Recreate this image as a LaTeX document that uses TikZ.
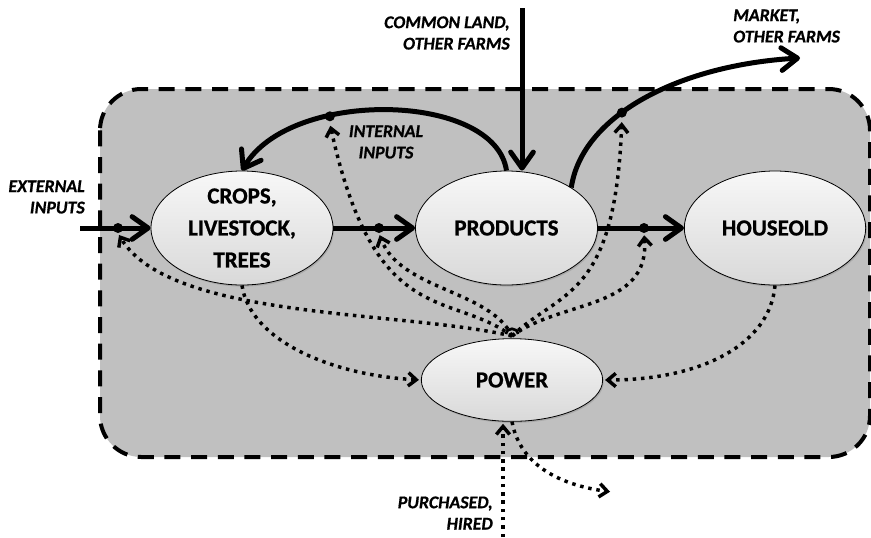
\documentclass[tikz,border=0pt]{standalone}
\usepackage{fontspec}
\setmainfont{Carlito}[BoldFeatures={FakeBold=0.8}, BoldItalicFeatures={FakeBold=0.8}]
\usetikzlibrary{arrows.meta,shapes.geometric,shadows}
\definecolor{farmgray}{HTML}{C0C0C0}
\begin{document}
\begin{tikzpicture}[x=0.75pt,y=-0.75pt,
  unit/.style={ellipse, draw=black, line width=0.6pt, inner sep=0pt,
    top color=gray!6, bottom color=gray!30,
    drop shadow={opacity=0.35, shadow xshift=0.8pt, shadow yshift=-1.2pt},
    font=\fontsize{17.2}{24}\selectfont\bfseries, align=center},
  lbl/.style={font=\fontsize{13.4}{16}\selectfont\bfseries\itshape, inner sep=0pt},
  junction/.style={circle, fill=black, inner sep=0pt, minimum size=7.5pt},
  flow/.style={line width=3.75pt,
    -{Straight Barb[length=12pt, width=17pt, round]}},
  service/.style={line width=2.6pt, dash pattern=on 2.6pt off 3.6pt,
    -{Straight Barb[length=6pt, width=10pt]}, shorten >=1.5pt},
]
\useasboundingbox (0,0) rectangle (871,537);

% farm boundary
\draw[fill=farmgray, line width=3pt, dash pattern=on 12pt off 8pt,
  rounded corners=31pt] (100,89) rectangle (870,457);

% components
\node[unit, minimum width=136.5pt, minimum height=85.5pt] (crops) at (242,228)
  {CROPS,\\LIVESTOCK,\\TREES};
\node[unit, minimum width=136.5pt, minimum height=85.5pt] (prod) at (506.5,228)
  {PRODUCTS};
\node[unit, minimum width=136pt, minimum height=85.5pt] (house) at (775,228)
  {HOUSEOLD};
\node[unit, minimum width=136pt, minimum height=62pt] (power) at (512,380)
  {POWER};

% labels
\node[lbl, anchor=east, align=right] (extlbl) at (85,197) {EXTERNAL\\INPUTS};
\node[lbl, anchor=east, align=right] (landlbl) at (510,33) {COMMON LAND,\\OTHER FARMS};
\node[lbl, anchor=west, align=left] (mktlbl) at (733,26) {MARKET,\\OTHER FARMS};
\node[lbl, align=center] (intlbl) at (386,142) {INTERNAL\\INPUTS};
\node[lbl, anchor=east, align=right] (hirelbl) at (493,513) {PURCHASED,\\HIRED};

% free ends
\coordinate (extin) at (80,228);
\coordinate (land) at (522,8);
\coordinate (mkt) at (800,58);
\coordinate (ptop) at (512,336);
\coordinate (hire) at (503,537);
\coordinate (out) at (612,492);

% material flows
\draw[flow] (extin) -- (crops.west);
\draw[flow] (crops.east) -- (prod.west);
\draw[flow] (prod.east) -- (house.west);
\draw[flow] (land) -- (land |- prod.north);
\draw[flow] (prod.north) .. controls (495,92) and (290,88) .. (crops.north)
  node[junction, pos=0.665] (jint) {};
\draw[flow] (prod.32) .. controls (582,115) and (680,65) .. (mkt)
  node[junction, pos=0.4] (jmkt) {};

\node[junction] (jext) at (118,228) {};
\node[junction] (jcp) at (379,228) {};
\node[junction] (jph) at (644,228) {};

% power services
\draw[service] (ptop) .. controls (400,310) and (170,320) .. (jext.south);
\draw[service] (ptop) .. controls (450,290) and (375,330) .. (jint.south);
\draw[service] (ptop) .. controls (490,290) and (400,290) .. (jcp.south);
\draw[service] (ptop) .. controls (560,300) and (650,310) .. (jph.south);
\draw[service] (ptop) .. controls (560,290) and (615,300) .. (jmkt.south);
\draw[line width=2pt] (506,334) .. controls (507,327) and (517,327) .. (518,334);

\draw[service] (crops.south) .. controls (250,340) and (330,375) .. (power.west);
\draw[service] (house.south) .. controls (770,345) and (700,380) .. (power.east);
\draw[service] (hire) -- (hire |- power.south);
\draw[service] (power.south) .. controls (520,465) and (560,485) .. (out);
\end{tikzpicture}
\end{document}
